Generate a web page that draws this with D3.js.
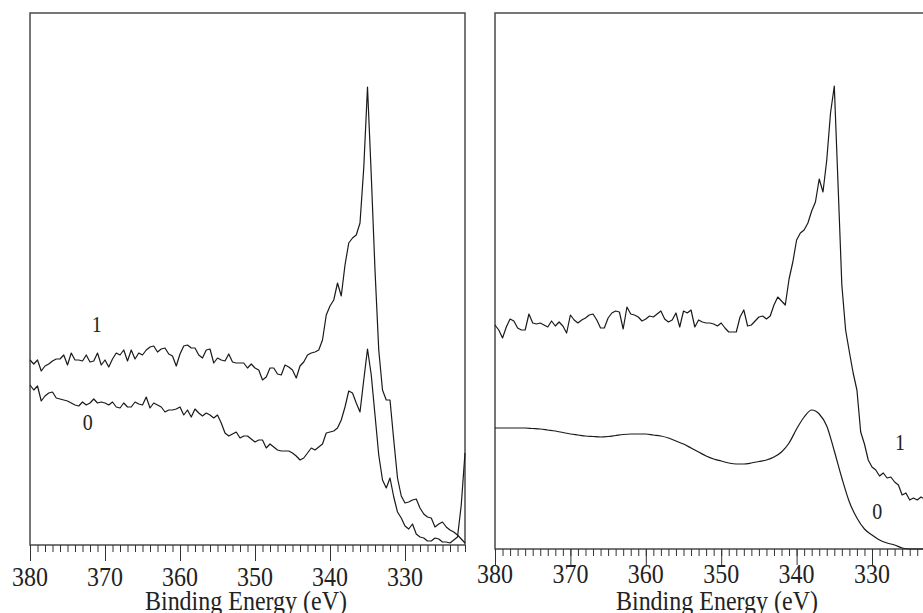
<!DOCTYPE html>
<html>
<head>
<meta charset="utf-8">
<script src="https://cdn.jsdelivr.net/npm/d3@7"></script>
<style>
  body { margin: 0; background: #fff; }
  svg { display: block; }
  .frame { fill: none; stroke: #4a4a4a; stroke-width: 1.5; }
  .tick line { stroke: #333; stroke-width: 1; }
  .curve { fill: none; stroke: #1a1a1a; stroke-width: 1.2; stroke-linejoin: round; }
  text { font-family: "Liberation Serif", "DejaVu Serif", serif; fill: #222; }
</style>
</head>
<body>
<main></main>
<script>
// ---- data (binding energy in eV, intensity in counts, arbitrary) ----
var leftStart = 380, leftStep = 0.5;
var leftSeries1 = [
  185,181,185,174,179,181,184,186,186,190,
  180,192,185,185,184,190,183,184,192,180,
  185,178,186,192,190,195,184,195,186,192,
  190,195,198,199,193,196,197,191,189,179,
  191,199,200,197,197,190,187,195,196,182,
  187,185,184,191,183,182,182,182,177,181,
  177,175,165,168,177,177,171,170,180,178,
  175,167,179,183,190,192,193,195,205,230,
  239,245,262,249,280,302,307,310,322,377,
  458,370,275,195,155,145,145,105,67,49,
  42,43,45,46,37,31,28,27,18,21,
  23,18,15,13,10,6,2
];
var leftSeries0 = [
  160,155,159,144,149,152,153,147,146,145,
  144,142,140,139,143,140,142,146,142,143,
  142,140,143,138,137,142,138,138,143,141,
  140,148,137,142,140,138,133,135,135,136,
  138,130,135,128,136,132,129,132,130,127,
  130,122,112,109,111,113,107,109,109,106,
  103,105,105,97,101,98,95,94,94,94,
  92,89,85,87,92,97,95,98,101,112,
  113,114,117,125,138,154,152,142,133,165,
  196,170,130,90,65,57,67,48,33,27,
  19,16,21,11,8,7,4,4,7,6,
  3,3,2,5,8,40,92
];

var rightStart = 380, rightStep1 = 0.5, rightStep0 = 1;
var rightSeries1 = [
  224,219,211,222,230,228,221,219,219,235,
  226,225,226,224,222,228,223,227,223,216,
  234,229,226,229,231,234,235,229,221,221,
  231,236,238,237,220,242,235,234,232,228,
  230,233,232,235,238,230,227,229,236,222,
  238,236,239,222,229,227,226,226,225,223,
  226,221,217,217,217,232,239,223,224,228,
  232,233,230,233,244,252,248,244,270,287,
  309,316,319,326,338,347,370,357,389,436,
  463,364,264,219,197,176,159,117,105,89,
  82,79,73,76,71,72,67,64,54,56,
  49,51,49,52,50
];
var rightSeries0 = [
  121,121,121,121,121,120.5,120,119,118,116.5,
  115,114,113,112.5,112,112.5,113.5,114.5,115,115,
  115,114,113,111,108,105,101,97,93,90,
  88,86,85,85,86,87.5,89,92,97,106,
  120,132,139,135,123,98,71,47,31,20,
  14,9,6,4,1,0,0,0
];

var majorTicks = [380, 370, 360, 350, 340, 330];
var axisTitle = "Binding Energy (eV)";
var leftLabels = [{ t: "1", e: 371.1, c: 220 }, { t: "0", e: 372.3, c: 122 }];
var rightLabels = [{ t: "1", e: 326.3, c: 106 }, { t: "0", e: 329.3, c: 37 }];

// ---- drawing ----
var svg = d3.select("main").append("svg")
  .attr("width", 923)
  .attr("height", 613);

function toPoints(arr, start, step) {
  return arr.map(function(v, i) { return [start - i * step, v]; });
}

function drawPanel(opt) {
  var x = d3.scaleLinear().domain(opt.xDomain).range(opt.xRange);
  var y = d3.scaleLinear().domain(opt.yDomain).range(opt.yRange);
  var g = svg.append("g");

  g.append("rect")
    .attr("class", "frame")
    .attr("x", opt.xRange[0])
    .attr("y", opt.yRange[1])
    .attr("width", opt.xRange[1] - opt.xRange[0])
    .attr("height", opt.yRange[0] - opt.yRange[1]);

  var lo = Math.ceil(Math.min(opt.xDomain[0], opt.xDomain[1]));
  var minor = d3.range(380, lo - 1, -1);
  g.append("g")
    .attr("transform", "translate(0," + opt.yRange[0] + ")")
    .call(d3.axisBottom(x).tickValues(minor).tickSize(7).tickSizeOuter(0).tickFormat(""))
    .call(function(a) { a.select(".domain").remove(); });
  g.append("g")
    .attr("transform", "translate(0," + opt.yRange[0] + ")")
    .call(d3.axisBottom(x).tickValues(majorTicks).tickSize(16).tickSizeOuter(0).tickFormat(""))
    .call(function(a) { a.select(".domain").remove(); });

  g.selectAll(".tlabel").data(majorTicks).enter().append("text")
    .attr("class", "tlabel")
    .attr("text-anchor", "middle")
    .attr("font-size", 24)
    .attr("transform", function(d) {
      return "translate(" + x(d) + "," + opt.tickBase + ") scale(1,1.18)";
    })
    .text(function(d) { return d; });

  g.append("text")
    .attr("text-anchor", "middle")
    .attr("font-size", 24)
    .attr("transform", "translate(" + opt.titleX + ",610) scale(1,1.18)")
    .text(axisTitle);

  var line = d3.line()
    .x(function(d) { return x(d[0]); })
    .y(function(d) { return y(d[1]); });

  opt.series.forEach(function(s) {
    g.append("path")
      .attr("class", "curve")
      .attr("d", line.curve(s.curve || d3.curveLinear)(s.points));
  });

  g.selectAll(".clabel").data(opt.labels).enter().append("text")
    .attr("class", "clabel")
    .attr("text-anchor", "middle")
    .attr("dominant-baseline", "central")
    .attr("font-size", 20)
    .attr("transform", function(d) {
      return "translate(" + x(d.e) + "," + y(d.c) + ") scale(1,1.15)";
    })
    .text(function(d) { return d.t; });
}

drawPanel({
  xDomain: [380, 322], xRange: [30, 465],
  yDomain: [0, 532], yRange: [545, 13],
  tickBase: 586, titleX: 246,
  labels: leftLabels,
  series: [
    { points: toPoints(leftSeries1, leftStart, leftStep) },
    { points: toPoints(leftSeries0, leftStart, leftStep) }
  ]
});

drawPanel({
  xDomain: [380, 320], xRange: [495, 947.4],
  yDomain: [0, 536], yRange: [549, 13],
  tickBase: 583, titleX: 717,
  labels: rightLabels,
  series: [
    { points: toPoints(rightSeries1, rightStart, rightStep1) },
    { points: toPoints(rightSeries0, rightStart, rightStep0), curve: d3.curveMonotoneX }
  ]
});
</script>
</body>
</html>
